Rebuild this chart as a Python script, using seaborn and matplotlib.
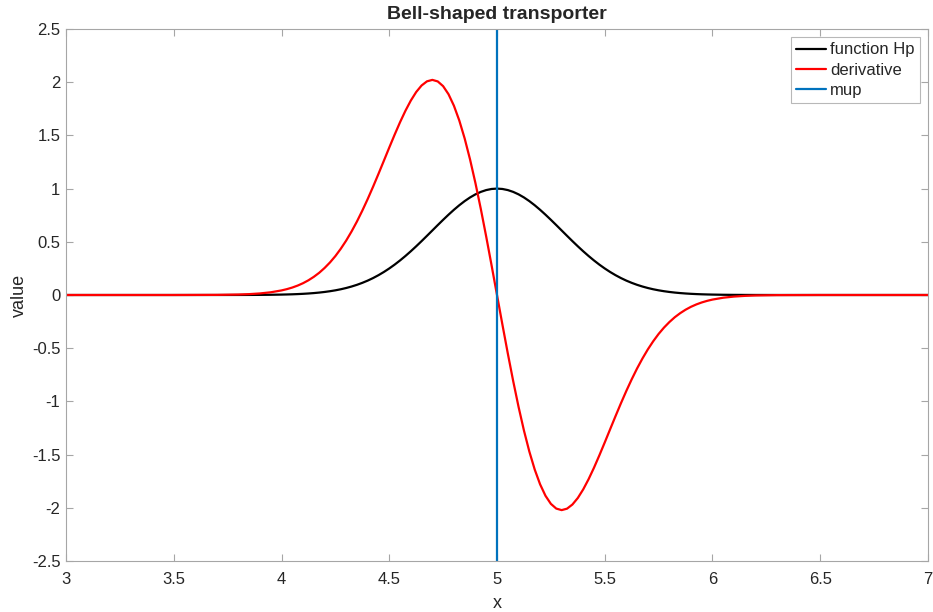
import numpy as np
import pandas as pd
import matplotlib.pyplot as plt
import matplotlib.ticker as mticker
import seaborn as sns

# values
x = [3.0, 3.5, 3.7, 3.8, 3.85, 3.9, 3.95,
     4.0, 4.025, 4.05, 4.075, 4.1, 4.125, 4.15, 4.175, 4.2, 4.225,
     4.25, 4.275, 4.3, 4.325, 4.35, 4.375, 4.4, 4.425, 4.45, 4.475,
     4.5, 4.525, 4.55, 4.575, 4.6, 4.625, 4.65, 4.675, 4.7, 4.725,
     4.75, 4.775, 4.8, 4.825, 4.85, 4.875, 4.9, 4.925, 4.95, 4.975,
     5.0,
     5.025, 5.05, 5.075, 5.1, 5.125, 5.15, 5.175, 5.2, 5.225, 5.25,
     5.275, 5.3, 5.325, 5.35, 5.375, 5.4, 5.425, 5.45, 5.475, 5.5,
     5.525, 5.55, 5.575, 5.6, 5.625, 5.65, 5.675, 5.7, 5.725, 5.75,
     5.775, 5.8, 5.825, 5.85, 5.875, 5.9, 5.925, 5.95, 5.975, 6.0,
     6.05, 6.1, 6.15, 6.2, 6.3, 6.5, 7.0]

hp = [0.0, 0.0, 0.0001, 0.0003, 0.0006, 0.0012, 0.0022,
      0.0039, 0.0051, 0.0066, 0.0086, 0.0111, 0.0142, 0.0181, 0.0228, 0.0286, 0.0356,
      0.0439, 0.0539, 0.0657, 0.0796, 0.0956, 0.1142, 0.1353, 0.1593, 0.1863, 0.2163,
      0.2494, 0.2855, 0.3247, 0.3666, 0.4111, 0.4578, 0.5063, 0.5561, 0.6065, 0.6570,
      0.7066, 0.7548, 0.8007, 0.8435, 0.8825, 0.9169, 0.9460, 0.9692, 0.9862, 0.9965,
      1.0,
      0.9965, 0.9862, 0.9692, 0.9460, 0.9169, 0.8825, 0.8435, 0.8007, 0.7548, 0.7066,
      0.6570, 0.6065, 0.5561, 0.5063, 0.4578, 0.4111, 0.3666, 0.3247, 0.2855, 0.2494,
      0.2163, 0.1863, 0.1593, 0.1353, 0.1142, 0.0956, 0.0796, 0.0657, 0.0539, 0.0439,
      0.0356, 0.0286, 0.0228, 0.0181, 0.0142, 0.0111, 0.0086, 0.0066, 0.0051, 0.0039,
      0.0022, 0.0012, 0.0006, 0.0003, 0.0001, 0.0, 0.0]

deriv = [0.0, 0.0, 0.0012, 0.0045, 0.0082, 0.0147, 0.0255,
         0.0430, 0.0551, 0.0701, 0.0886, 0.1110, 0.1383, 0.1709, 0.2089, 0.2542, 0.3061,
         0.3658, 0.4344, 0.5110, 0.5967, 0.6904, 0.7928, 0.9022, 1.0179, 1.1385, 1.2616,
         1.3856, 1.5069, 1.6235, 1.7312, 1.8271, 1.9077, 1.9690, 2.0081, 2.0217, 2.0074,
         1.9628, 1.8871, 1.7793, 1.6402, 1.4708, 1.2734, 1.0511, 0.8077, 0.5479, 0.2768,
         0.0,
         -0.2768, -0.5479, -0.8077, -1.0511, -1.2734, -1.4708, -1.6402, -1.7793, -1.8871, -1.9628,
         -2.0074, -2.0217, -2.0081, -1.9690, -1.9077, -1.8271, -1.7312, -1.6235, -1.5069, -1.3856,
         -1.2616, -1.1385, -1.0179, -0.9022, -0.7928, -0.6904, -0.5967, -0.5110, -0.4344, -0.3658,
         -0.3061, -0.2542, -0.2089, -0.1709, -0.1383, -0.1110, -0.0886, -0.0701, -0.0551, -0.0430,
         -0.0255, -0.0147, -0.0082, -0.0045, -0.0012, 0.0, 0.0]

mup = 5.0

sns.set_style("white")
plt.rcParams['font.family'] = ['Liberation Sans', 'DejaVu Sans']

df = pd.DataFrame({"x": x, "hp": hp, "deriv": deriv})

fig = plt.figure(figsize=(9.33, 6.12), dpi=100)
ax = fig.add_axes([66 / 933, 1 - 561 / 612, (928 - 66) / 933, (561 - 29) / 612])

sns.lineplot(data=df, x="x", y="hp", color="black", linewidth=1.6, ax=ax,
             label="function Hp")
sns.lineplot(data=df, x="x", y="deriv", color="#ff0000", linewidth=1.6, ax=ax,
             label="derivative")
ax.axvline(mup, color="#0072bd", linewidth=1.6, label="mup")

ax.set_xlim(3, 7)
ax.set_ylim(-2.5, 2.5)
ax.xaxis.set_major_locator(mticker.MultipleLocator(0.5))
ax.yaxis.set_major_locator(mticker.MultipleLocator(0.5))
fmt = mticker.FuncFormatter(lambda v, p: ("%g" % v).replace("\u2212", "-"))
ax.xaxis.set_major_formatter(fmt)
ax.yaxis.set_major_formatter(fmt)

for s in ax.spines.values():
    s.set_color("#a6a6a6")
    s.set_linewidth(0.8)
ax.tick_params(direction="in", length=5, width=0.8, color="#a6a6a6",
               labelsize=12, labelcolor="#262626", top=True, right=True,
               bottom=True, left=True)
ax.tick_params(axis="x", pad=8)
ax.tick_params(axis="y", pad=4)

ax.set_title("Bell-shaped transporter", fontsize=14, fontweight="bold", pad=7)
ax.set_xlabel("x", fontsize=13, color="#262626", labelpad=6)
ax.set_ylabel("value", fontsize=13, color="#262626", labelpad=3)

leg = ax.legend(loc="upper right", fontsize=12, frameon=True, fancybox=False,
                handlelength=1.8, handletextpad=0.25, borderpad=0.3,
                labelspacing=0.32, borderaxespad=0.5)
leg.get_frame().set_edgecolor("#a6a6a6")
leg.get_frame().set_linewidth(0.8)

fig.savefig("out.png", dpi=100)
